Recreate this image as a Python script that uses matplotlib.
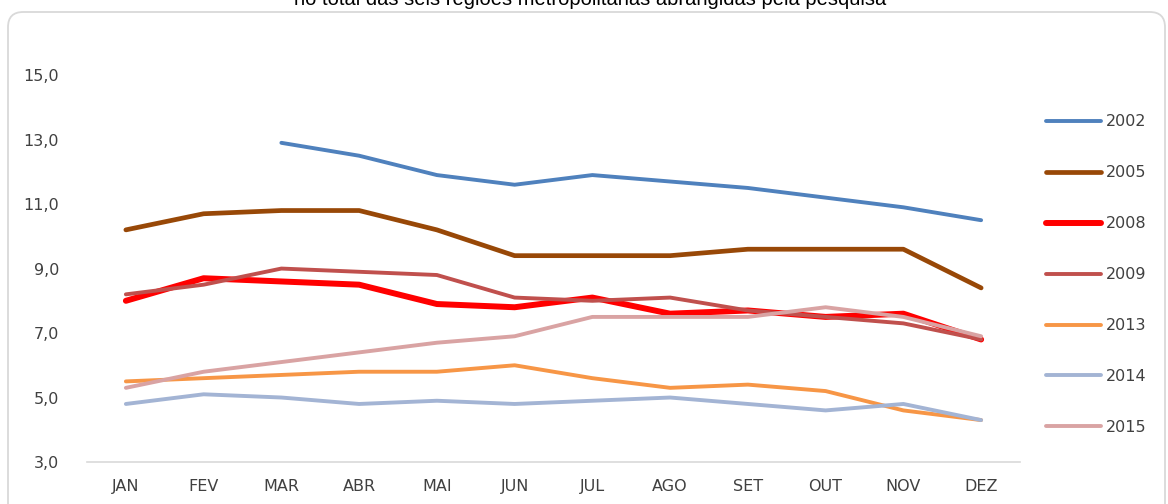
import matplotlib
matplotlib.use("Agg")
import matplotlib.pyplot as plt
from matplotlib.patches import FancyBboxPatch
from matplotlib.ticker import FuncFormatter
import numpy as np

months = ["JAN", "FEV", "MAR", "ABR", "MAI", "JUN", "JUL", "AGO", "SET", "OUT", "NOV", "DEZ"]
s2002 = [np.nan, np.nan, 12.9, 12.5, 11.9, 11.6, 11.9, 11.7, 11.5, 11.2, 10.9, 10.5]
s2005 = [10.2, 10.7, 10.8, 10.8, 10.2, 9.4, 9.4, 9.4, 9.6, 9.6, 9.6, 8.4]
s2008 = [8.0, 8.7, 8.6, 8.5, 7.9, 7.8, 8.1, 7.6, 7.7, 7.5, 7.6, 6.8]
s2009 = [8.2, 8.5, 9.0, 8.9, 8.8, 8.1, 8.0, 8.1, 7.7, 7.5, 7.3, 6.8]
s2013 = [5.5, 5.6, 5.7, 5.8, 5.8, 6.0, 5.6, 5.3, 5.4, 5.2, 4.6, 4.3]
s2014 = [4.8, 5.1, 5.0, 4.8, 4.9, 4.8, 4.9, 5.0, 4.8, 4.6, 4.8, 4.3]
s2015 = [5.3, 5.8, 6.1, 6.4, 6.7, 6.9, 7.5, 7.5, 7.5, 7.8, 7.5, 6.9]
yticks = [3, 5, 7, 9, 11, 13, 15]
title = "no total das seis regiões metropolitanas abrangidas pela pesquisa"

series = [
    ("2002", s2002, "#4F81BD", 2.8),
    ("2005", s2005, "#984807", 3.4),
    ("2008", s2008, "#FF0000", 4.3),
    ("2009", s2009, "#C0504D", 2.8),
    ("2013", s2013, "#F79646", 2.8),
    ("2014", s2014, "#A3B4D4", 2.8),
    ("2015", s2015, "#D9A3A3", 2.8),
]

plt.rcParams['font.family'] = ['DejaVu Sans']
fig = plt.figure(figsize=(11.68, 5.04), dpi=100)

# outer rounded border
box = FancyBboxPatch((8 / 1168, -0.05), (1165 - 8) / 1168, (504 - 12) / 504 + 0.05,
                     boxstyle="round,pad=0,rounding_size=0.013",
                     transform=fig.transFigure, facecolor="none",
                     edgecolor="#D9D9D9", linewidth=1.3, zorder=-1,
                     mutation_aspect=1168 / 504)
fig.patches.append(box)

fig.text(0.505, 1 - 5 / 504, title, ha="center", va="baseline",
         fontsize=14.5, family="Liberation Sans", color="black")

ax = fig.add_axes([87 / 1168, 1 - 462 / 504, (1020 - 87) / 1168, (462 - 59) / 504])
ax.patch.set_alpha(0)
x = np.arange(len(months))
for name, vals, color, lw in series:
    ax.plot(x, vals, color=color, lw=lw, label=name, solid_capstyle="round",
            solid_joinstyle="round")

ax.set_xlim(-0.5, len(months) - 0.5)
ax.set_ylim(3, 15.5)
ax.set_yticks(yticks)
ax.yaxis.set_major_formatter(FuncFormatter(lambda v, p: f"{v:.1f}".replace(".", ",")))
ax.set_xticks(x)
ax.set_xticklabels(months)
for s in ["top", "right", "left"]:
    ax.spines[s].set_visible(False)
ax.spines["bottom"].set_color("#D9D9D9")
ax.spines["bottom"].set_linewidth(1.2)
ax.tick_params(axis="both", length=0, labelsize=11.5, labelcolor="#404040")
ax.tick_params(axis="y", pad=20)
ax.tick_params(axis="x", pad=12)

leg = fig.legend(loc="upper left", bbox_to_anchor=(1040 / 1168, 1 - 108 / 504),
                 frameon=False, fontsize=11.5, handlelength=3.4, handletextpad=0.3,
                 labelspacing=2.25, borderaxespad=0)
for t in leg.get_texts():
    t.set_color("#404040")

fig.savefig("out.png", dpi=100)
